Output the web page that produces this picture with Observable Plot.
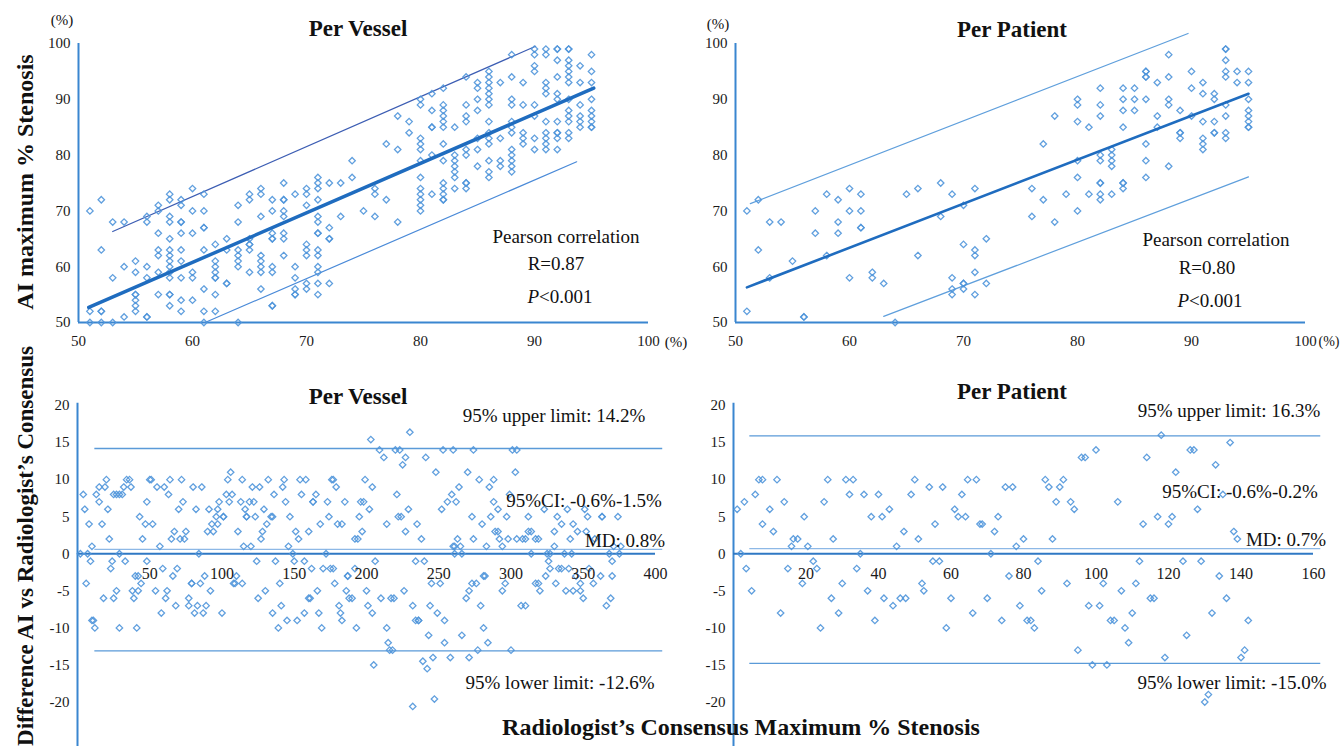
<!DOCTYPE html>
<html><head><meta charset="utf-8">
<script src="https://cdn.jsdelivr.net/npm/d3@7"></script>
<script src="https://cdn.jsdelivr.net/npm/@observablehq/plot@0.6"></script>
<style>
body{margin:0;background:#fff;}
#root{position:relative;width:1340px;height:754px;overflow:hidden;background:#fff;font-family:"Liberation Serif","Times New Roman",serif;color:#111;}
.panel{position:absolute;}
.panel svg{overflow:visible;}
.t{position:absolute;white-space:nowrap;transform:translate(-50%,-50%);line-height:1;}
</style></head><body><div id="root"></div>
<script>
const FONT = '"Liberation Serif","Times New Roman",serif';

// ---------- DATA ----------
// Per-vessel scatter: radiologist consensus (x) columns and AI values in each column
const vesselRadCols = [51,52,53,54,55,56,57,58,59,60,61,62,63,64,65,66,67,68,69,70,71,72,73,74,75,76,77,78,79,80,81,82,83,84,85,86,87,88,89,90,91,92,93,94,95];
const vesselAIByCol = [
  [70,52,50],[72,63,52,52,50],[68,58,50],[68,60,51],[61,59,55,55,54,53,52],[69,68,60,58,51,51],
  [71,70,66,63,62,59,55],[73,72,69,68,65,63,62,61,60,59,58,55,55,53],[72,71,68,68,66,63,61,58,54,52],
  [74,70,66,59,58,54],[73,70,67,67,63,56,52,50],[64,61,60,59,58,58,55,52],[65,63,57,57],
  [71,68,63,62,61,60,50],[73,72,65,64,64,63,59],[74,73,69,62,61,60,59,56],[72,70,66,65,65,60,59,53,53],
  [75,72,72,70,69,66,65,62],[73,60,58,56,55,55],[74,73,71,64,63,62,57,56],
  [76,75,74,72,69,68,66,66,63,62,60,59,57,55],[75,67,65,65,57],[75,69],[79,76],[70],[74,73,69],
  [82,72],[87,81,68],[86,84],[90,89,83,82,81,79,76,74,73,72,71,70],[91,88,85,85,80,73],
  [92,89,88,87,86,85,82,79,75,74,73,72,72],[85,80,79,78,77,76,74],[94,89,87,86,81,80,75,75,74],
  [93,92,90,88,83,81,78],[95,94,93,92,91,90,89,86,84,83,82,79,77,76],[93,83,79,78],
  [98,94,90,89,86,85,84,81,80,79,78,77],[93,89,84,83,82],[99,98,96,95,89,87,83,81],
  [99,98,93,92,91,86,84,83,82,81],[99,99,97,94,91,90,86,84,84,83,81],
  [99,99,97,96,95,94,93,90,88,87,86,84,83],[96,93,89,87,86,85],[98,95,93,90,88,87,86,85,85]
];
const vesselFit = [[50.9,52.7],[95.2,92.0]];
const vesselUpper = [[53.0,66.3],[90.1,99.5]];
const vesselLower = [[61.1,50.0],[93.7,78.8]];

// Per-patient scatter
const patientRadCols = [51,52,53,54,55,56,57,58,59,60,61,62,63,64,65,66,68,69,70,71,72,76,77,78,79,80,81,82,83,84,85,86,87,88,89,90,91,92,93,94,95];
const patientAIByCol = [
  [70,52],[72,63],[68,58],[68],[61],[51,51],[70,66],[73,62],[72,68,66],[74,70,58],[73,70,67,67],
  [59,58],[57],[50],[73],[74,62],[75,69],[73,58,56,55],[71,64,57,57,56],[74,63,62,59,55],[65,57],
  [74,69],[82,72],[87,68],[73],[90,89,86,79,76,70],[85,73],[92,89,87,80,79,75,75,73,72],
  [81,80,79,78,73],[92,90,88,85,75,75,74],[92,90,88],[95,95,94,94,90,82,79,76],[93,87,85],
  [98,94,90,89,78],[88,84,84,83],[95,92,87],[93,91,86,83,82,81],[91,90,86,84,84],
  [99,99,97,95,94,89,87,84,83],[95,93],[95,93,90,88,87,86,85,85]
];
const patientFit = [[51.0,56.3],[95.0,91.0]];
const patientUpper = [[51.3,71.3],[89.7,101.8]];
const patientLower = [[63.0,51.1],[95.0,76.1]];

// Bland-Altman per vessel: [case index, difference AI - consensus]
const vesselBA = [
[2,0],[4,8],[5,6],[6,-4],[7,0],[8,4],[9,-1],[10,-9],[11,-9],[10,1],[12,-10],[13,8],[15,9],[15,7],[17,4],[18,-6],[19,9],[20,10],[21,6],[22,2],[23,-2],[24,-1],[25,8],[27,8],[29,8],[31,8],[25,-6],[27,-5],[29,-10],[29,0],[32,9],[34,10],[36,10],[37,9],[33,-1],[38,-5],[42,-5],[39,-6],[40,-3],[41,-10],[43,5],[42,-3],[44,-4],[45,2],[47,4],[48,-1],[48,7],[50,10],[51,10],[52,4],[54,-5],[55,9],[57,1],[58,-8],[59,-2],[60,9],[61,-6],[62,-5],[63,8],[64,10],[65,2],[66,-3],[67,3],[68,-7],[69,-2],[70,6],[71,2],[72,10],[73,7],[74,2],[75,3],[77,-7],[77,-6],[79,-4],[79,-4],[80,9],[81,-8],[83,-7],[82,6],[84,0],[85,-4],[86,9],[87,-8],[88,-3],[89,-7],[90,3],[91,6],[92,-5],[93,4],[94,3],[96,5],[97,6],[97,4],[98,7],[100,-8],[101,5],[101,5],[103,8],[104,10],[105,7],[106,11],[107,8],[108,-4],[109,-4],[110,-3],[111,3],[113,7],[114,-4],[114,10],[115,1],[116,6],[117,5],[117,5],[119,7],[120,1],[121,9],[122,7],[123,5],[124,-1],[125,-6],[126,9],[127,2],[128,3],[129,6],[130,-5],[131,4],[132,10],[134,5],[135,5],[135,-8],[136,8],[137,-1],[139,-10],[140,-4],[141,-7],[142,9],[143,10],[144,7],[145,-9],[146,1],[147,5],[149,0],[150,-1],[151,3],[152,-9],[153,2],[154,10],[155,8],[157,-1],[157,-8],[158,10],[160,-6],[161,-6],[160,3],[162,-2],[163,7],[163,7],[165,8],[166,-5],[167,-8],[168,4],[169,-10],[170,-2],[172,0],[173,7],[174,5],[175,-2],[177,-2],[176,10],[177,10],[178,-4],[179,9],[180,4],[183,4],[181,-7],[182,-8],[183,-9],[185,7],[186,-5],[187,-3],[187,-3],[188,-6],[190,-6],[192,-2],[192,2],[194,2],[193,-10],[195,5],[196,7],[198,7],[197,3],[199,10],[200,-5],[201,-7],[202,6],[203,15.4],[204,9],[204,-8],[205,-15],[206,-1],
[209,14],[210,-6],[212,13],[214,4],[214,-10],[215,-12],[216,-13],[218,-13],[217,-6],[219,-6],[220,14],[223,14],[221,8],[222,5],[224,5],[225,12],[226,-5],[227,13],[227,3],[229,6],[230,16.4],[232,-20.6],[232,-7],[234,-1],[240,-1],[234,-9],[236,-9],[236,-9],[235,4],[238,2],[239,-14.5],[242,-15.5],[241,13],[243,-11],[245,-4],[244,-7],[246,-14],[247,-19.6],[248,11],[249,-8],[251,-4],[252,6],[253,14],[254,-9],[254,-12],[256,7],[258,-14],[259,8],[260,14],[260,1],[261,1],[261,0],[266,0],[262,7],[263,2],[264,9],[265,1],[266,-11],[269,-6],[270,11],[271,-5],[271,-14],[273,5],[273,-4],[274,14],[274,2],[276,-4],[277,-13],[278,10],[279,-7],[280,4],[281,-3],[282,-3],[281,-10],[283,1],[284,-12],[285,9],[286,5],[288,7],[288,10],[289,3],[291,3],[291,6],[292,2],[294,-5],[294,1],[296,-4],[297,5],[298,2],[299,8],[300,-13],[301,14],[304,14],[303,11],[304,2],[310,2],[307,-7],[310,-7],[308,2],[312,5],[312,3],[314,0],[314,3],[317,-4],[319,-4],[317,2],[319,2],[320,-5],[323,6],[324,-3],[325,0],[327,0],[326,-1],[327,-2],[330,1],[330,3],[331,-4],[332,5],[333,-2],[335,-2],[340,-2],[335,4],[337,0],[338,-5],[339,6],[341,2],[342,0],[343,4],[343,-5],[348,-5],[345,-3],[346,3],[348,-4],[350,-6],[351,6],[352,3],[353,5],[354,-2],[357,-4],[358,2],[362,-3],[363,5],[363,5],[366,-7],[368,0],[369,-6],[370,-3],[370,-1],[371,1],[374,5],[375,0],[376,1]
];
const vesselLimits = {upper: 14.2, md: 0.6, lower: -13.1};

// Bland-Altman per patient
const patientBA = [
[1,6],[2,0],[3,7],[3.5,-2],[5,-5],[6,8],[7,10],[8,10],[8,4],[10,6],[11,3],[12,10],[13,-8],[14,7],[15,-2],[16,1],[16.5,2],[17.7,2],[19,-4],[19.5,5],[20.5,1],[22,-1],[23,-2],[24,-10],[25,7],[26,10],[27,-6],[27.5,2],[29,-8],[30,-4],[31,10],[32,8],[33,10],[34,-2],[35,0],[36,8],[37,-5],[38,5],[39,-9],[40,8],[41,5],[41.5,-6],[43,6],[44,-7],[45,1],[46,-6],[47,3],[47.5,-6],[49,8],[50,10],[51,2],[52,-4],[52.5,-5],[54,9],[55,-1],[56.8,-1],[55.6,4],[57.7,9],[58.7,-10],[60,-6],[61,6],[62,5],[63,8],[64,5],[64.6,10],[66,-8],[67,10],[68,4],[68.6,4],[70,-6],[71,0],[72,3],[73,5],[74,-9],[75,9],[76,-3],[77,9],[78,1],[79,-7],[80,2],[81,-9],[82,-9],[83,-10],[84,-1],[85,-5],[86,10],[87,9],[88,2],[89,7],[90,9],[91,10],[92,-4],[93,7],[94,6],[95,-13],[96,13],[97,13],[98,-7],[99,-15],[100,14],[101,-7],[102,-4],[103,-15],[104,-9],[105,-9],[106,7],[107,-5],[108,-10],[109,-12],[110,-8],[111,-4],[112,-1],[113,4],[114,13],[115,-6],[116,-6],[117,5],[118,16],[119,-14],[120,4],[121,5],[122,11],[124,-1],[125,-11],[126,14],[127,14],[128,6],[129,-1],[130,-20],[131,-19],[132,-8],[133,12],[134,-3],[135,8],[136,-6],[137,15],[138,3],[139,2],[140,-14],[141,-13],[142,-9]
];
const patientLimits = {upper: 15.9, md: 0.7, lower: -14.8};

const scatterTicks = [50,60,70,80,90,100];
const baYTicks = [20,15,10,5,0,-5,-10,-15,-20];
const vesselBAXTicks = [50,100,150,200,250,300,350,400];
const patientBAXTicks = [20,40,60,80,100,120,140,160];

// ---------- HELPERS ----------
const AXIS = "#3a86d0";
const DOT = "#4f95da";

function flatten(cols, groups) {
  const out = [];
  cols.forEach((c, i) => groups[i].forEach(v => out.push({x: c, y: v})));
  return out;
}

function scatterPanel(o) {
  return Plot.plot({
    width: o.width, height: 350,
    marginLeft: o.marginLeft, marginRight: o.marginRight, marginTop: 43, marginBottom: 28,
    style: {fontFamily: FONT, fontSize: "15px", color: "#1a1a1a", background: "transparent", overflow: "visible"},
    x: {domain: [50, 100], ticks: scatterTicks, tickSize: 0, tickPadding: 13, label: null, tickFormat: d => String(d)},
    y: {domain: [50, 100], ticks: scatterTicks, tickSize: 0, tickPadding: 8, label: null, tickFormat: d => String(d)},
    marks: [
      Plot.ruleY([50], {x1: 50, x2: 100, stroke: AXIS, strokeWidth: 2}),
      Plot.ruleX([50], {y1: 50, y2: 100, stroke: AXIS, strokeWidth: 2}),
      Plot.line(o.upper, {x: d => d[0], y: d => d[1], stroke: o.upperColor, strokeWidth: 1.2}),
      Plot.line(o.lower, {x: d => d[0], y: d => d[1], stroke: o.lowerColor, strokeWidth: 1.2}),
      Plot.dot(o.data, {x: "x", y: "y", symbol: "diamond2", r: 2.9, stroke: DOT, strokeWidth: 1.3, fill: "none", strokeOpacity: 0.9}),
      Plot.line(o.fit, {x: d => d[0], y: d => d[1], stroke: "#1f6cbf", strokeWidth: o.fitWidth})
    ]
  });
}

function baPanel(o) {
  const lim = o.limits;
  return Plot.plot({
    width: o.width, height: 394,
    marginLeft: o.marginLeft, marginRight: o.marginRight, marginTop: 45, marginBottom: 8,
    style: {fontFamily: FONT, fontSize: "15px", color: "#1a1a1a", background: "transparent", overflow: "visible"},
    x: {domain: o.xDomain, axis: null},
    y: {domain: [-26, 20], ticks: baYTicks, tickSize: 0, tickPadding: 8, label: null, tickFormat: d => String(d)},
    marks: [
      Plot.ruleX([o.xDomain[0]], {y1: -26, y2: 20.3, stroke: AXIS, strokeWidth: 2}),
      Plot.ruleY([lim.upper, lim.lower], {x1: o.lineX[0], x2: o.lineX[1], stroke: "#5a9ad8", strokeWidth: 1.3}),
      Plot.ruleY([lim.md], {x1: o.lineX[0], x2: o.lineX[1], stroke: "#8db8e6", strokeWidth: 1.3}),
      Plot.ruleY([0], {x1: o.xDomain[0], x2: o.xDomain[1], stroke: "#2f78c4", strokeWidth: 2}),
      Plot.dot(o.data, {x: d => d[0], y: d => d[1], symbol: "diamond2", r: 2.9, stroke: DOT, strokeWidth: 1.3, fill: "none", strokeOpacity: 0.9}),
      Plot.text(o.xTicks, {x: d => d, y: 0, dy: 20, text: d => String(d), fontSize: 16, fill: "#1a1a1a"})
    ]
  });
}

const root = document.getElementById("root");
function place(node, left, top) {
  const d = document.createElement("div");
  d.className = "panel";
  d.style.left = left + "px";
  d.style.top = top + "px";
  d.appendChild(node);
  root.appendChild(d);
}
function label(html, x, y, size, opts = {}) {
  const d = document.createElement("div");
  d.className = "t";
  d.innerHTML = html;
  d.style.left = x + "px";
  d.style.top = y + "px";
  d.style.fontSize = size + "px";
  if (opts.bold) d.style.fontWeight = "bold";
  if (opts.rotate) d.style.transform = "translate(-50%,-50%) rotate(-90deg)";
  root.appendChild(d);
}

// ---------- PANELS ----------
place(scatterPanel({
  data: flatten(vesselRadCols, vesselAIByCol), fit: vesselFit, upper: vesselUpper, lower: vesselLower,
  upperColor: "#3c5db3", lowerColor: "#4a8ad8", fitWidth: 3.5,
  width: 690, marginLeft: 78, marginRight: 42
}), 0, 0);

place(scatterPanel({
  data: flatten(patientRadCols, patientAIByCol), fit: patientFit, upper: patientUpper, lower: patientLower,
  upperColor: "#5f9fdc", lowerColor: "#5f9fdc", fitWidth: 2.6,
  width: 680, marginLeft: 75, marginRight: 35
}), 660, 0);

place(baPanel({
  data: vesselBA, limits: vesselLimits, xDomain: [0, 400], xTicks: vesselBAXTicks, lineX: [12, 405],
  width: 690, marginLeft: 77, marginRight: 35
}), 0, 360);

place(baPanel({
  data: patientBA, limits: patientLimits, xDomain: [0, 160], xTicks: patientBAXTicks, lineX: [4.5, 162],
  width: 680, marginLeft: 73, marginRight: 27
}), 660, 360);

// ---------- TEXT ----------
label("Per Vessel", 358, 28, 23, {bold: true});
label("Per Patient", 1012, 29, 23, {bold: true});
label("Per Vessel", 358, 396, 23, {bold: true});
label("Per Patient", 1012, 391, 23, {bold: true});

label("(%)", 62, 20, 15);
label("(%)", 718, 24, 15);
label("(%)", 676, 342, 15);
label("(%)", 1329, 342, 14);

label("Pearson correlation", 566, 236, 19);
label("R=0.87", 556, 263, 19);
label("<i>P</i>&lt;0.001", 560, 296, 19);
label("Pearson correlation", 1216, 239, 19);
label("R=0.80", 1207, 267, 19);
label("<i>P</i>&lt;0.001", 1210, 300, 19);

label("95% upper limit: 14.2%", 554, 415, 19);
label("95%CI: -0.6%-1.5%", 584, 500, 19);
label("MD: 0.8%", 625, 540, 19);
label("95% lower limit: -12.6%", 560, 682, 19);

label("95% upper limit: 16.3%", 1229, 410, 19);
label("95%CI: -0.6%-0.2%", 1240, 491, 19);
label("MD: 0.7%", 1286, 539, 19);
label("95% lower limit: -15.0%", 1232, 682, 19);

label("AI maximum % Stenosis", 25, 182, 24, {bold: true, rotate: true});
label("Difference AI vs Radiologist\u2019s Consensus", 25, 546, 23, {bold: true, rotate: true});
label("Radiologist\u2019s Consensus Maximum % Stenosis", 741, 727, 24, {bold: true});
</script></body></html>
